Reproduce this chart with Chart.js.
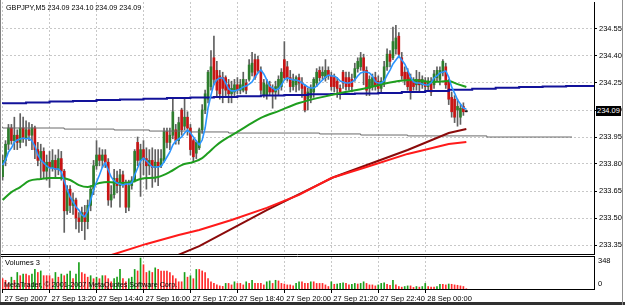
<!DOCTYPE html>
<html><head><meta charset="utf-8">
<script src="https://cdn.jsdelivr.net/npm/chart.js@4.4.0/dist/chart.umd.min.js"></script>
<style>
html,body{margin:0;padding:0;background:#fff;}
#wrap{position:relative;width:625px;height:305px;overflow:hidden;background:#fff;font-family:'Liberation Sans',Arial,sans-serif;font-size:7.5px;color:#000;}
canvas{position:absolute;left:0;}
#c1{top:0;}
#c2{top:255px;}
.t{position:absolute;white-space:nowrap;line-height:1;}
</style></head><body>
<div id="wrap">
<canvas id="c1" width="625" height="255"></canvas>
<canvas id="c2" width="625" height="50"></canvas>
<div class="t" id="hdr" style="left:6px;top:4px;font-size:7.2px;"></div>
<div class="t" id="vlab" style="left:5px;top:259px;"></div>
<div class="t" style="left:4px;top:281px;font-size:7.2px;">MetaTrader, © 2001-2007 MetaQuotes Software Corp.</div>
<div class="t" id="pbox" style="left:596px;top:106px;background:#000;color:#fff;padding:1px 1px 1px 1px;"></div>
<div style="position:absolute;left:0;top:302px;width:625px;height:3px;background:#303030;"></div>
<div style="position:absolute;left:622px;top:0;width:1px;height:305px;background:#909090;"></div>
</div>
<script>
// ---------- DATA ----------
const symbolTitle = 'GBPJPY,M5';
const timeLabels = ['27 Sep 2007','27 Sep 13:20','27 Sep 14:40','27 Sep 16:00','27 Sep 17:20','27 Sep 18:40','27 Sep 20:00','27 Sep 21:20','27 Sep 22:40','28 Sep 00:00'];
const timeTickBars = [0,16,32,48,64,80,96,112,128,144];
const priceTicks = [233.35,233.50,233.65,233.80,233.95,234.10,234.25,234.40,234.55];
const volTickLabels = [0,348];

const O = [233.73,233.82,233.91,234.00,233.93,233.96,233.92,234.00,233.94,233.99,233.96,234.00,233.88,233.82,233.87,233.76,233.81,233.78,233.82,233.77,
233.83,233.76,233.54,233.66,233.57,233.60,233.50,233.48,233.53,233.48,233.57,233.66,233.79,233.85,233.82,233.85,233.81,233.60,233.63,233.72,
233.68,233.74,233.69,233.56,233.68,233.71,233.92,233.82,233.88,233.83,233.79,233.82,233.78,233.81,233.79,233.82,233.98,233.92,233.96,233.99,
233.93,234.10,234.01,234.06,234.00,233.93,233.86,233.89,233.99,234.10,234.16,234.23,234.39,234.32,234.29,234.28,234.28,234.24,234.19,234.20,
234.24,234.21,234.21,234.25,234.27,234.31,234.38,234.38,234.32,234.18,234.18,234.24,234.22,234.20,234.22,234.23,234.38,234.34,234.28,234.23,
234.24,234.28,234.25,234.23,234.16,234.17,234.20,234.25,234.32,234.29,234.28,234.32,234.29,234.28,234.26,234.22,234.31,234.28,234.28,234.27,
234.28,234.33,234.34,234.39,234.32,234.22,234.23,234.28,234.26,234.22,234.25,234.34,234.41,234.39,234.44,234.51,234.39,234.31,234.31,234.28,
234.26,234.24,234.27,234.24,234.26,234.23,234.26,234.24,234.28,234.27,234.31,234.34,234.26,234.17,234.16,234.10,234.06,234.12,234.09];
const H = [233.85,233.93,234.02,234.02,234.06,233.99,234.08,234.06,234.04,234.03,234.02,234.01,233.92,233.91,233.89,233.85,233.87,233.88,233.85,233.88,
233.87,233.77,233.68,233.68,233.64,233.61,233.53,233.56,233.57,233.60,233.68,233.82,233.93,233.89,233.88,233.88,233.83,233.68,233.77,233.76,
233.77,233.76,233.71,233.71,233.73,233.88,233.95,233.91,233.93,233.89,233.88,233.89,233.88,233.88,233.88,234.00,234.00,234.00,234.16,234.02,
234.06,234.11,234.17,234.09,234.02,233.94,233.93,234.00,234.13,234.21,234.32,234.43,234.51,234.37,234.32,234.31,234.29,234.27,234.26,234.27,
234.28,234.27,234.31,234.27,234.38,234.42,234.41,234.40,234.34,234.27,234.27,234.26,234.24,234.26,234.29,234.33,234.48,234.37,234.32,234.30,
234.29,234.30,234.28,234.24,234.22,234.24,234.28,234.33,234.34,234.34,234.38,234.34,234.31,234.30,234.28,234.24,234.32,234.31,234.31,234.30,
234.36,234.39,234.42,234.41,234.34,234.29,234.30,234.31,234.29,234.28,234.37,234.44,234.43,234.56,234.57,234.53,234.42,234.34,234.33,234.30,
234.28,234.32,234.31,234.29,234.28,234.28,234.28,234.32,234.34,234.34,234.38,234.36,234.27,234.20,234.18,234.16,234.13,234.14,234.10];
const L = [233.71,233.79,233.88,233.91,233.88,233.88,233.89,233.92,233.90,233.93,233.88,233.83,233.79,233.72,233.72,233.71,233.67,233.76,233.72,233.74,
233.71,233.42,233.52,233.53,233.52,233.44,233.42,233.43,233.38,233.44,233.54,233.63,233.77,233.79,233.78,233.78,233.57,233.56,233.61,233.64,
233.56,233.67,233.53,233.54,233.66,233.70,233.79,233.62,233.74,233.66,233.74,233.67,233.70,233.68,233.78,233.81,233.89,233.88,233.94,233.91,
233.91,233.96,233.99,233.96,233.85,233.81,233.83,233.88,233.97,234.08,234.14,234.21,234.24,234.18,234.16,234.14,234.18,234.14,234.14,234.18,
234.19,234.19,234.20,234.19,234.26,234.29,234.27,234.31,234.19,234.17,234.16,234.18,234.11,234.16,234.18,234.21,234.27,234.26,234.20,234.21,
234.20,234.21,234.17,234.09,234.10,234.14,234.17,234.23,234.26,234.27,234.26,234.27,234.21,234.20,234.17,234.16,234.22,234.21,234.21,234.20,
234.26,234.31,234.32,234.24,234.18,234.18,234.21,234.21,234.20,234.20,234.23,234.32,234.34,234.38,234.41,234.39,234.27,234.24,234.21,234.16,
234.21,234.21,234.20,234.22,234.21,234.21,234.18,234.22,234.26,234.24,234.29,234.22,234.13,234.06,234.03,234.01,234.02,234.07,234.09];
const C = [233.82,233.91,234.00,233.93,233.96,233.92,234.00,233.94,233.99,233.96,234.00,233.88,233.82,233.87,233.76,233.81,233.78,233.82,233.77,233.83,
233.76,233.54,233.66,233.57,233.60,233.50,233.48,233.53,233.48,233.57,233.66,233.79,233.85,233.82,233.85,233.81,233.60,233.63,233.72,233.68,
233.74,233.69,233.56,233.68,233.71,233.87,233.82,233.88,233.83,233.79,233.82,233.78,233.81,233.79,233.83,233.98,233.92,233.96,234.09,233.93,
234.03,233.99,234.06,234.00,233.88,233.84,233.92,233.99,234.10,234.19,234.31,234.34,234.27,234.21,234.19,234.22,234.21,234.19,234.22,234.24,
234.21,234.24,234.27,234.21,234.35,234.36,234.28,234.32,234.21,234.25,234.24,234.20,234.20,234.23,234.27,234.31,234.28,234.28,234.23,234.27,
234.28,234.25,234.22,234.10,234.20,234.22,234.27,234.31,234.28,234.31,234.32,234.29,234.23,234.23,234.22,234.20,234.25,234.23,234.23,234.23,
234.33,234.37,234.39,234.32,234.21,234.27,234.28,234.23,234.22,234.26,234.34,234.41,234.37,234.48,234.50,234.41,234.29,234.27,234.23,234.20,
234.23,234.27,234.24,234.27,234.23,234.26,234.20,234.30,234.32,234.32,234.37,234.24,234.16,234.09,234.06,234.12,234.11,234.09,234.09];
const maFast = [233.794,233.822,233.867,233.889,233.922,233.933,233.939,233.944,233.939,233.944,233.928,233.900,233.850,233.822,233.806,233.789,233.778,233.778,233.772,233.772,
233.756,233.706,233.656,233.617,233.589,233.561,233.544,233.517,233.506,233.539,233.600,233.656,233.700,233.739,233.783,233.806,233.767,233.728,233.706,233.694,
233.689,233.683,233.689,233.689,233.694,233.739,233.778,233.817,233.833,233.817,233.800,233.783,233.783,233.783,233.789,233.811,233.839,233.867,233.906,233.928,
233.939,233.950,233.972,233.989,233.972,233.950,233.928,233.906,233.933,234.000,234.111,234.183,234.244,234.267,234.278,234.278,234.250,234.217,234.206,234.206,
234.211,234.217,234.228,234.233,234.244,234.256,234.283,234.306,234.322,234.300,234.267,234.233,234.222,234.211,234.217,234.239,234.267,234.278,234.272,234.267,
234.267,234.261,234.250,234.239,234.228,234.222,234.222,234.233,234.250,234.267,234.283,234.294,234.289,234.289,234.278,234.261,234.256,234.250,234.250,234.256,
234.267,234.289,234.306,234.311,234.311,234.306,234.289,234.256,234.250,234.250,234.261,234.294,234.322,234.356,234.378,234.400,234.378,234.356,234.322,234.283,
234.256,234.250,234.250,234.244,234.239,234.239,234.250,234.278,234.289,234.306,234.311,234.317,234.283,234.228,234.194,234.156,234.133,234.111,234.106];
const greenBars = [0,3,6,9,13,16,20,23,26,29,33,36,40,44,47,53,57,61,65,68,70,73,77,80,85,88,94,101,112,124,133,139,147,152,155,158];
const greenVals = [233.600,233.644,233.672,233.706,233.717,233.722,233.722,233.711,233.683,233.672,233.694,233.700,233.694,233.700,233.717,233.728,233.756,233.794,233.811,233.833,
233.861,233.906,233.950,233.978,234.028,234.056,234.094,234.139,234.183,234.222,234.256,234.267,234.256,234.261,234.244,234.228];
const redBars = [36,49,60,67,78,90,101,112,124,138,152,158];
const redVals = [233.289,233.356,233.406,233.433,233.489,233.556,233.628,233.722,233.783,233.856,233.911,233.922];
const maroonBars = [59,67,90,113,138,152,158];
const maroonVals = [233.289,233.344,233.544,233.728,233.878,233.972,233.994];
const navyBars = [0,8,16,24,32,40,48,56,64,72,80,88,96,104,112,120,128,136,144,152,160,168,176,184,192,202];
const navyVals = [234.133,234.138,234.142,234.147,234.150,234.155,234.158,234.162,234.166,234.169,234.172,234.176,234.180,234.184,234.187,234.189,234.192,234.195,234.200,234.206,
234.212,234.218,234.224,234.228,234.231,234.234];
const grayBars = [0,21,38,50,64,77,108,122,138,165,179,194];
const grayVals = [234.006,234.000,233.994,233.989,233.983,233.978,233.972,233.967,233.961,233.956,233.950,233.950];
const volumes = [116,98,63,133,98,186,150,168,168,150,168,220,186,203,150,150,150,116,186,133,168,
150,168,203,116,168,297,186,168,133,150,116,133,116,150,150,116,81,116,133,220,
116,81,116,133,220,203,348,273,186,203,186,238,220,203,203,203,186,150,116,81,
81,186,133,150,116,220,220,203,186,116,81,63,46,35,30,63,63,46,81,63,
63,46,81,63,98,63,63,63,46,81,91,63,98,91,63,56,46,46,35,63,81,81,63,63,
81,81,63,63,63,46,28,81,53,56,63,70,63,46,52,63,56,63,81,63,46,46,35,46,63,70,53,40,98,46,
28,21,28,35,35,18,28,21,28,63,28,21,21,28,53,53,46,56,53,46,42,35,28,3];

// ---------- RENDER ----------
const FONT = "'Liberation Sans',Arial,sans-serif";
const FSIZE = 7.5;
const n = C.length;
const last = n - 1;
const idx = C.map((_, i) => i);
const xMin = -0.204, xMax = 201.5;

document.getElementById('hdr').textContent = symbolTitle + '  ' + [O[last],H[last],L[last],C[last]].map(v=>v.toFixed(2)).join(' ');
document.getElementById('vlab').textContent = 'Volumes ' + volumes[last];
document.getElementById('pbox').textContent = C[last].toFixed(2);

function zeroPad(s){ s.paddingLeft=0; s.paddingRight=0; s.paddingTop=0; s.paddingBottom=0; }

const framePlugin = {
  id: 'frame',
  afterDraw(chart, args, opts) {
    const {ctx, chartArea: a} = chart;
    ctx.save();
    ctx.lineWidth = 1;
    ctx.strokeStyle = '#000';
    if (opts.bottom) { ctx.beginPath(); ctx.moveTo(0, a.bottom + 0.5); ctx.lineTo(a.right + 1, a.bottom + 0.5); ctx.stroke(); }
    if (opts.top) { ctx.beginPath(); ctx.moveTo(0, a.top - 0.5); ctx.lineTo(a.right + 1, a.top - 0.5); ctx.stroke(); }
    ctx.strokeStyle = '#808080';
    ctx.beginPath(); ctx.moveTo(0.5, 0); ctx.lineTo(0.5, chart.height); ctx.stroke();
    if (opts.vol) {
      const y = chart.scales.y;
      ctx.fillStyle = '#000';
      ctx.font = FSIZE + 'px ' + FONT;
      ctx.textAlign = 'left';
      ctx.textBaseline = 'middle';
      ctx.fillText(String(volTickLabels[1]), a.right + 4, y.getPixelForValue(volTickLabels[1]) + 3);
      ctx.fillText(String(volTickLabels[0]), a.right + 4, y.getPixelForValue(volTickLabels[0]) - 5);
    }
    ctx.restore();
  }
};

const lineBase = {type: 'line', pointRadius: 0, fill: false, clip: 0, tension: 0};

new Chart(document.getElementById('c1'), {
  type: 'bar',
  data: {
    datasets: [
      Object.assign({}, lineBase, {label: 'fast', order: 0, data: idx.map(i => ({x: i, y: maFast[i]})), borderColor: '#2b95ff', borderWidth: 1.6}),
      Object.assign({}, lineBase, {label: 'green', order: 1, data: greenBars.map((b, k) => ({x: b, y: greenVals[k]})), borderColor: '#1e9e1e', borderWidth: 2, cubicInterpolationMode: 'monotone'}),
      Object.assign({}, lineBase, {label: 'navy', order: 2, data: navyBars.map((b, k) => ({x: b, y: navyVals[k]})), borderColor: '#12129a', borderWidth: 2, stepped: 'after'}),
      Object.assign({}, lineBase, {label: 'red', order: 3, data: redBars.map((b, k) => ({x: b, y: redVals[k]})), borderColor: '#ff1a1a', borderWidth: 2}),
      Object.assign({}, lineBase, {label: 'maroon', order: 4, data: maroonBars.map((b, k) => ({x: b, y: maroonVals[k]})), borderColor: '#8b0a0a', borderWidth: 2}),
      Object.assign({}, lineBase, {label: 'gray', order: 5, data: grayBars.map((b, k) => ({x: b, y: grayVals[k]})), borderColor: '#6a6a6a', borderWidth: 1, stepped: 'after'}),
      {type: 'bar', label: 'body', order: 10, grouped: false, barThickness: 2, minBarLength: 1,
       data: idx.map(i => ({x: i, y: [O[i], C[i]]})),
       backgroundColor: idx.map(i => C[i] > O[i] ? '#2d7d2d' : (C[i] < O[i] ? '#c81414' : '#202020'))},
      {type: 'bar', label: 'wick', order: 11, grouped: false, barThickness: 1,
       data: idx.map(i => ({x: i, y: [L[i], H[i]]})), backgroundColor: '#606060'}
    ]
  },
  options: {
    responsive: false, animation: false, devicePixelRatio: 1,
    layout: {padding: {left: 2, top: 2, right: 0, bottom: 1}},
    plugins: {legend: {display: false}, tooltip: {enabled: false}, frame: {bottom: true}},
    scales: {
      x: {type: 'linear', min: xMin, max: xMax, offset: false,
          afterBuildTicks: s => { s.ticks = timeTickBars.map(v => ({value: v})); },
          afterFit: s => { s.height = 0; zeroPad(s); },
          ticks: {display: false},
          grid: {color: '#c8c8c8', drawTicks: false, offset: false},
          border: {display: false, dash: [2, 2]}},
      y: {type: 'linear', position: 'right', min: 233.30, max: 234.70,
          afterBuildTicks: s => { s.ticks = priceTicks.map(v => ({value: v})); },
          afterFit: s => { s.width = 31; zeroPad(s); },
          ticks: {callback: v => Number(v).toFixed(2), color: '#000', padding: 2, font: {family: FONT, size: FSIZE}},
          grid: {color: '#c8c8c8', drawTicks: true, tickLength: 3, tickColor: '#000', tickBorderDash: []},
          border: {display: true, color: '#000', dash: [2, 2]}}
    }
  },
  plugins: [framePlugin]
});

new Chart(document.getElementById('c2'), {
  type: 'bar',
  data: {
    datasets: [{
      label: 'Volumes', grouped: false, barThickness: 1,
      data: idx.map(i => ({x: i, y: volumes[i]})),
      backgroundColor: idx.map(i => (i > 0 && volumes[i] > volumes[i - 1]) ? '#1aa01a' : '#ff2a2a')
    }]
  },
  options: {
    responsive: false, animation: false, devicePixelRatio: 1,
    layout: {padding: {left: 2, top: 2, right: 0, bottom: 0}},
    plugins: {legend: {display: false}, tooltip: {enabled: false}, frame: {top: true, vol: true}},
    scales: {
      x: {type: 'linear', min: xMin, max: xMax, offset: false,
          afterBuildTicks: s => { s.ticks = timeTickBars.map(v => ({value: v})); },
          afterFit: s => { s.height = 16; zeroPad(s); },
          ticks: {callback: (v, i) => timeLabels[i], align: 'start', labelOffset: 2, padding: 1, autoSkip: false, maxRotation: 0,
                  color: '#000', font: {family: FONT, size: FSIZE}},
          grid: {color: '#c8c8c8', drawTicks: true, tickLength: 4, tickColor: '#000', tickBorderDash: [], offset: false},
          border: {display: true, color: '#000', dash: [2, 2]}},
      y: {type: 'linear', position: 'right', min: 0, max: 360,
          afterFit: s => { s.width = 31; zeroPad(s); },
          ticks: {display: false},
          grid: {display: false},
          border: {display: true, color: '#000'}}
    }
  },
  plugins: [framePlugin]
});
</script>
</body></html>
